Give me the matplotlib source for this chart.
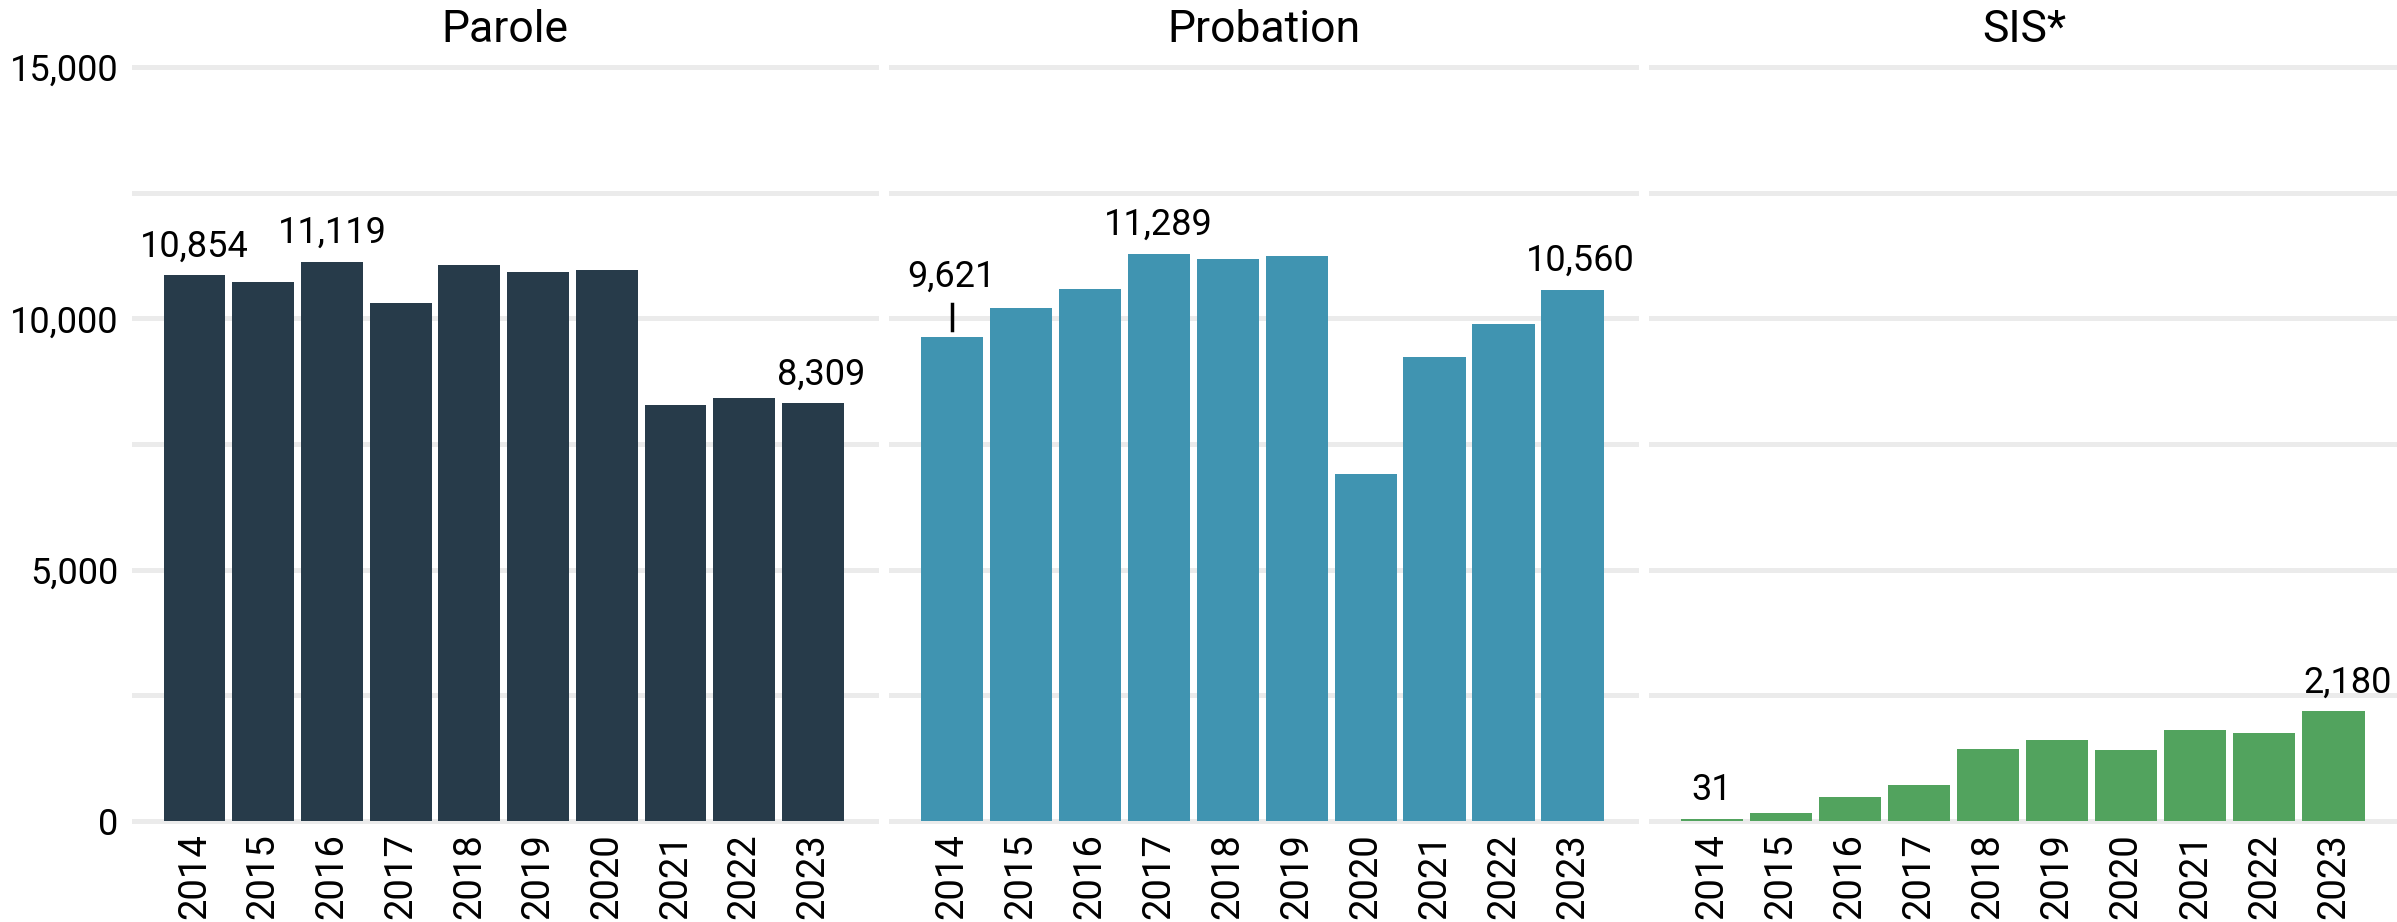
import matplotlib
matplotlib.use("Agg")
import matplotlib.pyplot as plt
import numpy as np

plt.rcParams['font.family'] = ['Roboto', 'DejaVu Sans']

years = ['2014', '2015', '2016', '2017', '2018', '2019', '2020', '2021', '2022', '2023']
panels = ['Parole', 'Probation', 'SIS*']

parole = [10854, 10730, 11119, 10305, 11065, 10925, 10960, 8270, 8420, 8309]
probation = [9621, 10200, 10585, 11289, 11185, 11240, 6900, 9230, 9890, 10560]
sis = [31, 160, 475, 720, 1435, 1610, 1415, 1810, 1750, 2180]

# which bars get a label (index into years)
parole_lab = [0, 2, 9]
probation_lab = [0, 3, 9]
sis_lab = [0, 9]

colors = ['#273b4a', '#4094b1', '#52a35e']
series = [parole, probation, sis]
labels = [parole_lab, probation_lab, sis_lab]

fig = plt.figure(figsize=(23.97, 9.22), dpi=100)
lefts = [0.0559, 0.3717, 0.6888]
widths = [0.3096, 0.3108, 0.3112]
bottom, height = 0.1095, 0.8178

x = np.arange(len(years))
for i in range(3):
    ax = fig.add_axes([lefts[i], bottom, widths[i], height])
    vals = series[i]
    for g in np.arange(0, 15001, 2500):
        ax.axhline(g, color='#ebebeb', lw=3.6, zorder=0, clip_on=False)
    ax.bar(x, vals, width=0.9, color=colors[i], zorder=2)
    ax.set_xlim(-0.88, 9.92)
    ax.set_ylim(0, 15000)
    for s in ax.spines.values():
        s.set_visible(False)
    ax.tick_params(length=0)
    ax.set_xticks(x)
    ax.set_xticklabels(years, rotation=90, fontsize=27.5, va='top')
    ax.tick_params(axis='x', pad=9)
    if i == 0:
        ax.set_yticks([0, 5000, 10000, 15000])
        ax.set_yticklabels(['0', '5,000', '10,000', '15,000'], fontsize=26)
        ax.tick_params(axis='y', pad=11)
    else:
        ax.set_yticks([])
    ax.set_title(panels[i], fontsize=32, pad=18)

    for j in labels[i]:
        v = vals[j]
        dx = 0
        if j == 9:
            dx = 0.12 if i != 2 else 0.2
        if i == 1 and j == 0:
            # raised label with a leader segment
            ax.plot([j, j], [v + 150, v + 660], color='black', lw=2.5, zorder=3)
            ax.annotate(f'{v:,}', (j, v), xytext=(0, 31), textcoords='offset points',
                        ha='center', va='bottom', fontsize=26)
        else:
            ax.annotate(f'{v:,}', (j + dx, v), xytext=(0, 8), textcoords='offset points',
                        ha='center', va='bottom', fontsize=26)

fig.savefig('out.png', dpi=100)
